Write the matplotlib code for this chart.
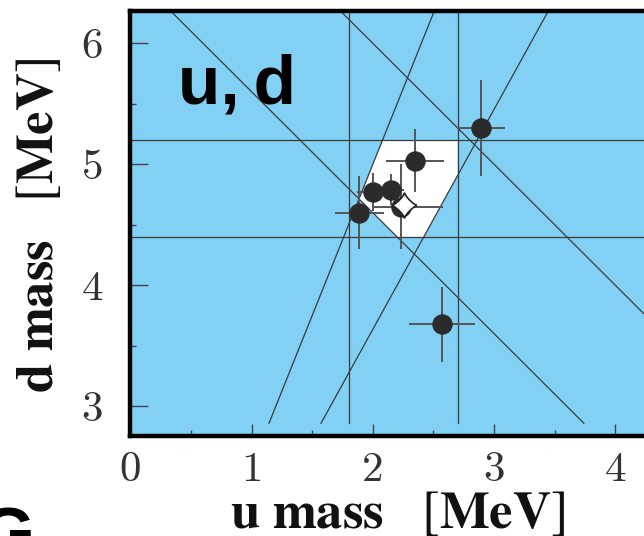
import numpy as np
import matplotlib.pyplot as plt

plt.rcParams['font.family'] = 'cmr10'
plt.rcParams['mathtext.fontset'] = 'stix'
plt.rcParams['axes.unicode_minus'] = False

# allowed ranges (MeV)
mu_range = [1.8, 2.7]
md_range = [4.4, 5.2]
sum_range = [6.6, 8.0]       # m_u + m_d
ratio_range = [0.40, 0.55]   # m_u / m_d

# individual determinations
mu = [2.89, 2.35, 2.00, 2.15, 1.89, 2.23, 2.57]
md = [5.30, 5.03, 4.77, 4.79, 4.60, 4.65, 3.68]
mu_lo = [0.20, 0.24, 0.13, 0.11, 0.20, 0.23, 0.27]
mu_hi = [0.20, 0.24, 0.18, 0.11, 0.20, 0.35, 0.27]
md_err = [0.40, 0.26, 0.16, 0.13, 0.30, 0.35, 0.31]

# average
avg_mu = 2.26
avg_md = 4.66

x_ticks = [0, 1, 2, 3, 4]
y_ticks = [3, 4, 5, 6]

blue = '#82d1f5'
line_col = '#3a3a3a'


def clip(poly, a, b, c):
    # keep the part of poly with a*u + b*d <= c
    out = []
    n = len(poly)
    for i in range(n):
        p, q = poly[i], poly[(i + 1) % n]
        fp = a * p[0] + b * p[1] - c
        fq = a * q[0] + b * q[1] - c
        if fp <= 0:
            out.append(p)
        if fp * fq < 0:
            t = fp / (fp - fq)
            out.append((p[0] + t * (q[0] - p[0]), p[1] + t * (q[1] - p[1])))
    return out


fig = plt.figure(figsize=(6.44, 5.36), dpi=100)
ax = fig.add_axes([0.2023, 0.1869, 0.8474, 0.7926])
ax.set_facecolor(blue)
ax.set_xlim(0, 4.5)
ax.set_ylim(2.756, 6.267)

# region allowed by all constraints
region = [(0, 0), (10, 0), (10, 10), (0, 10)]
for a, b, c in [(-1, 0, -mu_range[0]), (1, 0, mu_range[1]),
                (0, -1, -md_range[0]), (0, 1, md_range[1]),
                (-1, -1, -sum_range[0]), (1, 1, sum_range[1]),
                (-1, ratio_range[0], 0), (1, -ratio_range[1], 0)]:
    region = clip(region, a, b, c)
region = np.array(region)
ax.fill(region[:, 0], region[:, 1], color='white', lw=0, zorder=1)

d_lo, d_hi = 2.86, 6.4
lw = 0.9
for u in mu_range:
    ax.plot([u, u], [d_lo, d_hi], color=line_col, lw=lw, zorder=2)
for d in md_range:
    ax.plot([0, 4.5], [d, d], color=line_col, lw=lw, zorder=2)
for s in sum_range:
    ax.plot([s - d_lo, s - d_hi], [d_lo, d_hi], color=line_col, lw=lw, zorder=2)
for r in ratio_range:
    ax.plot([r * d_lo, r * d_hi], [d_lo, d_hi], color=line_col, lw=lw, zorder=2)

ax.errorbar(mu, md, xerr=[mu_lo, mu_hi], yerr=md_err, fmt='o', ms=13.7,
            mfc='#2b2b2b', mec='#2b2b2b', ecolor='#555555', elinewidth=1.4,
            capsize=0, zorder=3)

# four-pointed star for the average
t = np.linspace(0, 2 * np.pi, 200)
c, s = np.cos(t), np.sin(t)
star = np.column_stack([np.sign(c) * np.abs(c) ** 2.5, np.sign(s) * np.abs(s) ** 2.5])
ax.plot([avg_mu], [avg_md], marker=star, ms=18, mfc='white', mec='#222222',
        mew=1.2, ls='none', zorder=4)

ax.set_xticks(x_ticks, [str(v) for v in x_ticks])
ax.set_yticks(y_ticks, [str(v) for v in y_ticks])
ax.set_xticks(np.arange(0.5, 4.5, 1.0), minor=True)
ax.set_yticks(np.arange(3.5, 6.1, 1.0), minor=True)
ax.tick_params(which='both', direction='in', color='#444444', width=1.0,
               top=False, right=False, labelcolor='#333333')
ax.tick_params(axis='y', which='major', length=13.3, pad=19.5, labelsize=31)
ax.tick_params(axis='y', which='minor', length=4.3)
ax.tick_params(axis='x', which='major', length=8.6, pad=11, labelsize=31)
ax.tick_params(axis='x', which='minor', length=4.3)

for side in ['left', 'bottom', 'top', 'right']:
    ax.spines[side].set_linewidth(3.2)
    ax.spines[side].set_color('black')

ax.set_xlabel(r'$\mathbf{u\ mass}\ \ \ [\mathbf{MeV}]$', fontsize=38, color='#111111')
ax.xaxis.label.set_va('baseline')
ax.xaxis.set_label_coords(0.4897, -0.216)
ax.set_ylabel(r'$\mathbf{d\ mass}\ \ \ [\mathbf{MeV}]$', fontsize=38, color='#111111',
              rotation=90, rotation_mode='anchor', va='baseline', ha='center')
ax.yaxis.set_label_coords(-0.141, 0.495)

ax.text(0.0874, 0.7822, 'u,\u2009d', transform=ax.transAxes, fontsize=50,
        fontweight='bold', family=['Liberation Sans', 'DejaVu Sans'],
        ha='left', va='baseline', zorder=5)

fig.text(34 / 644, -20 / 536, 'G', fontsize=50, fontweight='bold',
         family='Liberation Sans', ha='right', va='baseline')

fig.savefig('out.png', dpi=100)
